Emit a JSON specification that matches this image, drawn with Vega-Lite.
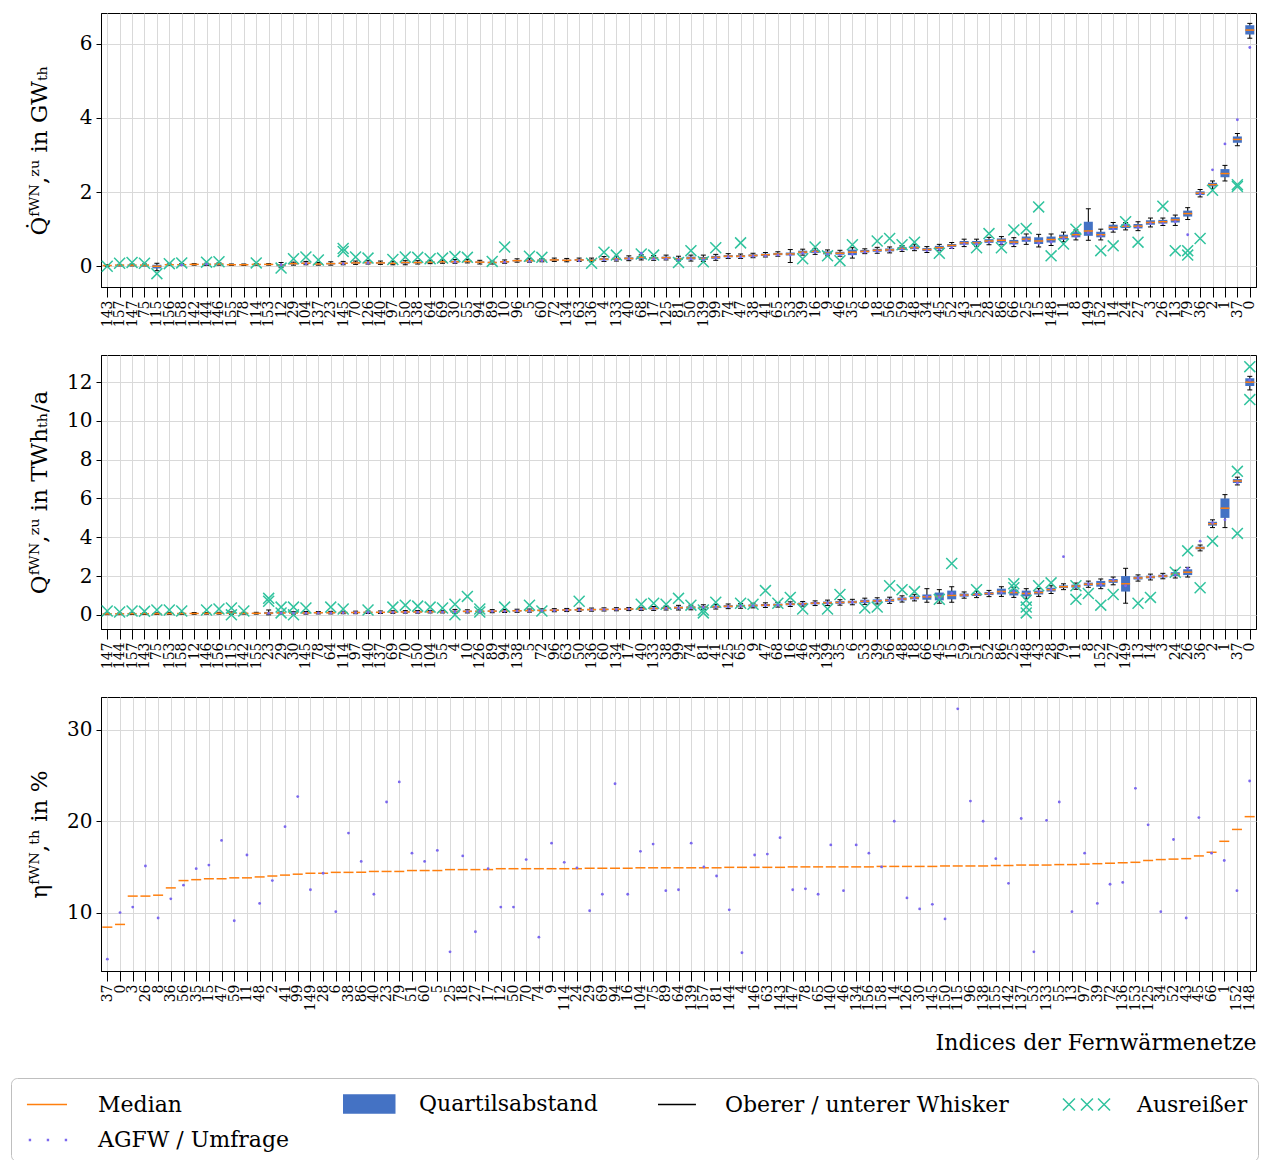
{
"$schema":"https://vega.github.io/schema/vega-lite/v6.json",
"padding":{"left":10,"top":12,"right":5,"bottom":5},
"background":"white",
"bounds":"flush",
"spacing":68,
"config":{
 "font":"DejaVu Serif",
 "view":{"stroke":"black","strokeWidth":1},
 "axis":{"domainColor":"black","tickColor":"black","labelColor":"black","titleColor":"black","gridColor":"#d9d9d9","gridWidth":1,"labelFont":"DejaVu Serif","titleFont":"DejaVu Serif","titleFontWeight":"normal"},
 "axisX":{"labelAngle":-90,"labelFontSize":14,"tickSize":10,"labelPadding":3,"grid":true,"title":null},
 "axisY":{"labelFontSize":20,"tickSize":5,"labelPadding":4,"grid":true,"titleFontSize":23,"titleX":-55,"titleAngle":-90,"titleBaseline":"alphabetic","titleAlign":"center"}
},
"resolve":{"scale":{"x":"independent","y":"independent","color":"shared","shape":"shared"},"axis":{"x":"independent","y":"independent"}},
"datasets":{
"leg":[{"item":"Median"},{"item":"Quartilsabstand"},{"item":"Oberer / unterer Whisker"},{"item":"Ausreißer"},{"item":"AGFW / Umfrage"}],
"box1":[
{"net":"143","median":0.02,"q1":0.01,"q3":0.03,"lo":0.0,"hi":0.04},
{"net":"157","median":0.03,"q1":0.02,"q3":0.04,"lo":0.01,"hi":0.05},
{"net":"147","median":0.03,"q1":0.02,"q3":0.04,"lo":0.01,"hi":0.06},
{"net":"75","median":0.03,"q1":0.02,"q3":0.04,"lo":0.01,"hi":0.06},
{"net":"115","median":0.0,"q1":-0.06,"q3":0.04,"lo":-0.12,"hi":0.08},
{"net":"156","median":0.04,"q1":0.03,"q3":0.05,"lo":0.02,"hi":0.06},
{"net":"158","median":0.04,"q1":0.03,"q3":0.05,"lo":0.02,"hi":0.07},
{"net":"142","median":0.05,"q1":0.04,"q3":0.06,"lo":0.03,"hi":0.07},
{"net":"144","median":0.05,"q1":0.04,"q3":0.07,"lo":0.02,"hi":0.08},
{"net":"146","median":0.06,"q1":0.04,"q3":0.07,"lo":0.03,"hi":0.09},
{"net":"155","median":0.04,"q1":0.03,"q3":0.05,"lo":0.02,"hi":0.06},
{"net":"78","median":0.04,"q1":0.03,"q3":0.05,"lo":0.02,"hi":0.06},
{"net":"114","median":0.05,"q1":0.04,"q3":0.06,"lo":0.03,"hi":0.07},
{"net":"153","median":0.05,"q1":0.04,"q3":0.06,"lo":0.03,"hi":0.07},
{"net":"12","median":0.03,"q1":0.0,"q3":0.06,"lo":-0.04,"hi":0.1},
{"net":"29","median":0.07,"q1":0.05,"q3":0.09,"lo":0.03,"hi":0.11},
{"net":"104","median":0.08,"q1":0.06,"q3":0.1,"lo":0.04,"hi":0.13},
{"net":"137","median":0.06,"q1":0.05,"q3":0.08,"lo":0.03,"hi":0.1},
{"net":"23","median":0.07,"q1":0.05,"q3":0.09,"lo":0.03,"hi":0.12},
{"net":"145","median":0.08,"q1":0.06,"q3":0.1,"lo":0.04,"hi":0.13},
{"net":"70","median":0.09,"q1":0.07,"q3":0.11,"lo":0.05,"hi":0.14},
{"net":"126","median":0.1,"q1":0.08,"q3":0.12,"lo":0.06,"hi":0.15},
{"net":"140","median":0.09,"q1":0.07,"q3":0.11,"lo":0.05,"hi":0.14},
{"net":"97","median":0.08,"q1":0.06,"q3":0.1,"lo":0.04,"hi":0.13},
{"net":"150","median":0.1,"q1":0.07,"q3":0.12,"lo":0.04,"hi":0.15},
{"net":"138","median":0.1,"q1":0.08,"q3":0.12,"lo":0.06,"hi":0.15},
{"net":"64","median":0.11,"q1":0.09,"q3":0.13,"lo":0.07,"hi":0.16},
{"net":"69","median":0.12,"q1":0.1,"q3":0.14,"lo":0.08,"hi":0.17},
{"net":"30","median":0.12,"q1":0.1,"q3":0.15,"lo":0.08,"hi":0.18},
{"net":"55","median":0.13,"q1":0.11,"q3":0.15,"lo":0.09,"hi":0.18},
{"net":"94","median":0.11,"q1":0.09,"q3":0.13,"lo":0.06,"hi":0.16},
{"net":"89","median":0.1,"q1":0.08,"q3":0.12,"lo":0.06,"hi":0.14},
{"net":"10","median":0.12,"q1":0.1,"q3":0.14,"lo":0.08,"hi":0.17},
{"net":"96","median":0.15,"q1":0.13,"q3":0.17,"lo":0.11,"hi":0.2},
{"net":"5","median":0.15,"q1":0.13,"q3":0.17,"lo":0.11,"hi":0.2},
{"net":"60","median":0.16,"q1":0.14,"q3":0.18,"lo":0.12,"hi":0.21},
{"net":"72","median":0.17,"q1":0.15,"q3":0.19,"lo":0.13,"hi":0.22},
{"net":"134","median":0.16,"q1":0.14,"q3":0.18,"lo":0.12,"hi":0.21},
{"net":"63","median":0.17,"q1":0.15,"q3":0.19,"lo":0.13,"hi":0.22},
{"net":"136","median":0.16,"q1":0.14,"q3":0.19,"lo":0.12,"hi":0.22},
{"net":"4","median":0.19,"q1":0.16,"q3":0.22,"lo":0.13,"hi":0.26},
{"net":"133","median":0.2,"q1":0.17,"q3":0.23,"lo":0.14,"hi":0.27},
{"net":"40","median":0.21,"q1":0.18,"q3":0.24,"lo":0.15,"hi":0.28},
{"net":"68","median":0.24,"q1":0.2,"q3":0.27,"lo":0.17,"hi":0.31},
{"net":"17","median":0.22,"q1":0.19,"q3":0.25,"lo":0.16,"hi":0.29},
{"net":"125","median":0.23,"q1":0.2,"q3":0.26,"lo":0.17,"hi":0.3},
{"net":"81","median":0.2,"q1":0.17,"q3":0.23,"lo":0.14,"hi":0.27},
{"net":"50","median":0.22,"q1":0.18,"q3":0.26,"lo":0.14,"hi":0.3},
{"net":"139","median":0.21,"q1":0.17,"q3":0.25,"lo":0.13,"hi":0.3},
{"net":"99","median":0.24,"q1":0.2,"q3":0.28,"lo":0.16,"hi":0.32},
{"net":"74","median":0.27,"q1":0.24,"q3":0.3,"lo":0.21,"hi":0.34},
{"net":"47","median":0.27,"q1":0.24,"q3":0.3,"lo":0.21,"hi":0.33},
{"net":"38","median":0.29,"q1":0.26,"q3":0.32,"lo":0.23,"hi":0.35},
{"net":"41","median":0.31,"q1":0.28,"q3":0.34,"lo":0.25,"hi":0.37},
{"net":"65","median":0.33,"q1":0.3,"q3":0.36,"lo":0.27,"hi":0.39},
{"net":"53","median":0.33,"q1":0.29,"q3":0.37,"lo":0.1,"hi":0.45},
{"net":"39","median":0.38,"q1":0.34,"q3":0.42,"lo":0.3,"hi":0.46},
{"net":"16","median":0.4,"q1":0.36,"q3":0.44,"lo":0.32,"hi":0.48},
{"net":"9","median":0.36,"q1":0.32,"q3":0.4,"lo":0.28,"hi":0.44},
{"net":"46","median":0.35,"q1":0.31,"q3":0.39,"lo":0.27,"hi":0.43},
{"net":"35","median":0.38,"q1":0.3,"q3":0.45,"lo":0.22,"hi":0.5},
{"net":"6","median":0.4,"q1":0.37,"q3":0.44,"lo":0.34,"hi":0.47},
{"net":"18","median":0.43,"q1":0.39,"q3":0.47,"lo":0.35,"hi":0.51},
{"net":"56","median":0.44,"q1":0.4,"q3":0.48,"lo":0.36,"hi":0.52},
{"net":"59","median":0.48,"q1":0.44,"q3":0.52,"lo":0.4,"hi":0.56},
{"net":"48","median":0.5,"q1":0.46,"q3":0.54,"lo":0.42,"hi":0.58},
{"net":"34","median":0.45,"q1":0.41,"q3":0.49,"lo":0.37,"hi":0.53},
{"net":"45","median":0.5,"q1":0.46,"q3":0.55,"lo":0.42,"hi":0.59},
{"net":"52","median":0.56,"q1":0.52,"q3":0.6,"lo":0.48,"hi":0.64},
{"net":"43","median":0.63,"q1":0.58,"q3":0.68,"lo":0.53,"hi":0.73},
{"net":"51","median":0.63,"q1":0.58,"q3":0.68,"lo":0.53,"hi":0.73},
{"net":"28","median":0.68,"q1":0.63,"q3":0.73,"lo":0.58,"hi":0.78},
{"net":"86","median":0.7,"q1":0.64,"q3":0.75,"lo":0.58,"hi":0.8},
{"net":"66","median":0.65,"q1":0.59,"q3":0.71,"lo":0.53,"hi":0.77},
{"net":"25","median":0.73,"q1":0.66,"q3":0.8,"lo":0.59,"hi":0.87},
{"net":"15","median":0.68,"q1":0.6,"q3":0.78,"lo":0.52,"hi":0.86},
{"net":"148","median":0.72,"q1":0.64,"q3":0.8,"lo":0.56,"hi":0.87},
{"net":"11","median":0.78,"q1":0.72,"q3":0.85,"lo":0.66,"hi":0.92},
{"net":"8","median":0.85,"q1":0.78,"q3":0.92,"lo":0.71,"hi":0.98},
{"net":"149","median":0.95,"q1":0.82,"q3":1.2,"lo":0.7,"hi":1.55},
{"net":"152","median":0.85,"q1":0.78,"q3":0.93,"lo":0.71,"hi":1.0},
{"net":"14","median":1.05,"q1":0.98,"q3":1.12,"lo":0.92,"hi":1.18},
{"net":"24","median":1.08,"q1":1.03,"q3":1.13,"lo":0.98,"hi":1.18},
{"net":"27","median":1.08,"q1":1.02,"q3":1.14,"lo":0.96,"hi":1.2},
{"net":"3","median":1.18,"q1":1.12,"q3":1.24,"lo":1.06,"hi":1.3},
{"net":"26","median":1.2,"q1":1.15,"q3":1.25,"lo":1.1,"hi":1.3},
{"net":"13","median":1.25,"q1":1.18,"q3":1.32,"lo":1.1,"hi":1.38},
{"net":"79","median":1.42,"q1":1.34,"q3":1.5,"lo":1.26,"hi":1.58},
{"net":"36","median":1.97,"q1":1.92,"q3":2.02,"lo":1.87,"hi":2.07},
{"net":"2","median":2.2,"q1":2.15,"q3":2.25,"lo":2.1,"hi":2.3},
{"net":"1","median":2.5,"q1":2.4,"q3":2.62,"lo":2.3,"hi":2.72},
{"net":"37","median":3.42,"q1":3.33,"q3":3.5,"lo":3.25,"hi":3.58},
{"net":"0","median":6.37,"q1":6.25,"q3":6.5,"lo":6.15,"hi":6.55}
],
"out1":[
{"net":"143","value":0.0},{"net":"157","value":0.08},{"net":"147","value":0.1},{"net":"75","value":0.08},{"net":"115","value":-0.2},{"net":"156","value":0.07},{"net":"158","value":0.09},{"net":"144","value":0.11},{"net":"146","value":0.12},{"net":"114","value":0.09},{"net":"12","value":-0.05},{"net":"29","value":0.2},{"net":"104","value":0.25},{"net":"137","value":0.17},{"net":"145","value":0.48},{"net":"145","value":0.4},{"net":"70","value":0.25},{"net":"126","value":0.22},{"net":"97","value":0.18},{"net":"150","value":0.25},{"net":"138","value":0.24},{"net":"64","value":0.2},{"net":"69","value":0.22},{"net":"30","value":0.26},{"net":"55","value":0.24},{"net":"89","value":0.13},{"net":"10","value":0.52},{"net":"5","value":0.27},{"net":"60","value":0.24},{"net":"136","value":0.08},{"net":"4","value":0.38},{"net":"133","value":0.3},{"net":"68","value":0.33},{"net":"17","value":0.3},{"net":"81","value":0.1},{"net":"50","value":0.42},{"net":"139","value":0.12},{"net":"99","value":0.5},{"net":"47","value":0.63},{"net":"16","value":0.52},{"net":"9","value":0.28},{"net":"46","value":0.15},{"net":"35","value":0.58},{"net":"39","value":0.2},{"net":"18","value":0.68},{"net":"56","value":0.75},{"net":"59","value":0.58},{"net":"48","value":0.65},{"net":"45","value":0.35},{"net":"51","value":0.5},{"net":"28","value":0.88},{"net":"86","value":0.5},{"net":"66","value":0.98},{"net":"25","value":1.02},{"net":"15","value":1.6},{"net":"148","value":0.28},{"net":"11","value":0.6},{"net":"8","value":1.0},{"net":"152","value":0.42},{"net":"14","value":0.55},{"net":"24","value":1.2},{"net":"27","value":0.65},{"net":"26","value":1.62},{"net":"13","value":0.42},{"net":"79","value":0.3},{"net":"79","value":0.42},{"net":"36","value":0.75},{"net":"2","value":2.05},{"net":"37","value":2.2},{"net":"37","value":2.15}
],
"srv1":[
{"net":"0","value":5.9},{"net":"37","value":3.95},{"net":"1","value":3.3},{"net":"2","value":2.6},{"net":"36","value":1.95},{"net":"79","value":0.85},{"net":"13","value":1.2},{"net":"26","value":1.15},{"net":"3","value":1.15},{"net":"27","value":1.05},{"net":"24","value":1.1},{"net":"14","value":1.0},{"net":"152","value":0.82},{"net":"149","value":0.9},{"net":"8","value":0.8},{"net":"11","value":0.75},{"net":"148","value":0.65},{"net":"15","value":0.62},{"net":"25","value":0.7},{"net":"66","value":0.6},{"net":"86","value":0.62},{"net":"28","value":0.65},{"net":"51","value":0.6},{"net":"43","value":0.6},{"net":"52","value":0.5},{"net":"45","value":0.45},{"net":"34","value":0.42},{"net":"48","value":0.48},{"net":"59","value":0.45},{"net":"56","value":0.42},{"net":"18","value":0.4},{"net":"6","value":0.38},{"net":"35","value":0.32},{"net":"46","value":0.3},{"net":"9","value":0.33},{"net":"16","value":0.38},{"net":"39","value":0.35},{"net":"53","value":0.3},{"net":"65","value":0.3},{"net":"41","value":0.28},{"net":"38","value":0.27},{"net":"47","value":0.25},{"net":"74","value":0.25},{"net":"99","value":0.22},{"net":"139","value":0.18},{"net":"50","value":0.2},{"net":"81","value":0.18},{"net":"125","value":0.2},{"net":"17","value":0.2},{"net":"68","value":0.35},{"net":"40","value":0.2},{"net":"133","value":0.18},{"net":"4","value":0.17},{"net":"63","value":0.15},{"net":"60","value":0.15},{"net":"5","value":0.13},{"net":"10","value":0.11},{"net":"30","value":0.11},{"net":"126","value":0.09},{"net":"145","value":0.07},{"net":"104","value":0.07},{"net":"12","value":0.04},{"net":"144","value":0.05},{"net":"158","value":0.03}
],
"box2":[
{"net":"147","median":0.05,"q1":0.03,"q3":0.07,"lo":0.01,"hi":0.09},
{"net":"144","median":0.05,"q1":0.03,"q3":0.07,"lo":0.01,"hi":0.09},
{"net":"157","median":0.06,"q1":0.04,"q3":0.08,"lo":0.02,"hi":0.1},
{"net":"143","median":0.06,"q1":0.04,"q3":0.08,"lo":0.02,"hi":0.1},
{"net":"75","median":0.06,"q1":0.04,"q3":0.08,"lo":0.02,"hi":0.1},
{"net":"153","median":0.07,"q1":0.05,"q3":0.09,"lo":0.03,"hi":0.11},
{"net":"158","median":0.07,"q1":0.05,"q3":0.09,"lo":0.03,"hi":0.11},
{"net":"12","median":0.07,"q1":0.05,"q3":0.09,"lo":0.03,"hi":0.12},
{"net":"146","median":0.08,"q1":0.06,"q3":0.1,"lo":0.04,"hi":0.12},
{"net":"156","median":0.08,"q1":0.06,"q3":0.1,"lo":0.04,"hi":0.13},
{"net":"115","median":0.09,"q1":0.06,"q3":0.12,"lo":0.03,"hi":0.15},
{"net":"142","median":0.08,"q1":0.06,"q3":0.1,"lo":0.04,"hi":0.13},
{"net":"155","median":0.08,"q1":0.06,"q3":0.1,"lo":0.04,"hi":0.13},
{"net":"23","median":0.09,"q1":0.04,"q3":0.15,"lo":0.0,"hi":0.25},
{"net":"29","median":0.1,"q1":0.07,"q3":0.13,"lo":0.04,"hi":0.16},
{"net":"30","median":0.1,"q1":0.07,"q3":0.13,"lo":0.04,"hi":0.16},
{"net":"145","median":0.1,"q1":0.07,"q3":0.13,"lo":0.04,"hi":0.17},
{"net":"78","median":0.11,"q1":0.08,"q3":0.14,"lo":0.05,"hi":0.17},
{"net":"64","median":0.11,"q1":0.08,"q3":0.14,"lo":0.05,"hi":0.18},
{"net":"114","median":0.12,"q1":0.09,"q3":0.15,"lo":0.06,"hi":0.18},
{"net":"97","median":0.12,"q1":0.09,"q3":0.15,"lo":0.06,"hi":0.19},
{"net":"140","median":0.13,"q1":0.1,"q3":0.16,"lo":0.07,"hi":0.2},
{"net":"137","median":0.13,"q1":0.1,"q3":0.16,"lo":0.07,"hi":0.2},
{"net":"69","median":0.14,"q1":0.11,"q3":0.17,"lo":0.08,"hi":0.21},
{"net":"70","median":0.15,"q1":0.12,"q3":0.18,"lo":0.09,"hi":0.22},
{"net":"150","median":0.15,"q1":0.12,"q3":0.18,"lo":0.09,"hi":0.22},
{"net":"104","median":0.16,"q1":0.13,"q3":0.19,"lo":0.1,"hi":0.23},
{"net":"55","median":0.16,"q1":0.13,"q3":0.19,"lo":0.1,"hi":0.23},
{"net":"4","median":0.17,"q1":0.12,"q3":0.22,"lo":0.07,"hi":0.28},
{"net":"10","median":0.18,"q1":0.14,"q3":0.22,"lo":0.1,"hi":0.26},
{"net":"126","median":0.18,"q1":0.14,"q3":0.22,"lo":0.1,"hi":0.26},
{"net":"89","median":0.19,"q1":0.15,"q3":0.23,"lo":0.11,"hi":0.27},
{"net":"94","median":0.2,"q1":0.16,"q3":0.24,"lo":0.12,"hi":0.28},
{"net":"138","median":0.21,"q1":0.17,"q3":0.25,"lo":0.13,"hi":0.29},
{"net":"5","median":0.22,"q1":0.18,"q3":0.26,"lo":0.14,"hi":0.3},
{"net":"72","median":0.23,"q1":0.19,"q3":0.27,"lo":0.15,"hi":0.31},
{"net":"96","median":0.24,"q1":0.2,"q3":0.28,"lo":0.16,"hi":0.32},
{"net":"63","median":0.25,"q1":0.21,"q3":0.29,"lo":0.17,"hi":0.33},
{"net":"50","median":0.26,"q1":0.22,"q3":0.3,"lo":0.18,"hi":0.34},
{"net":"136","median":0.27,"q1":0.23,"q3":0.31,"lo":0.19,"hi":0.35},
{"net":"60","median":0.28,"q1":0.24,"q3":0.32,"lo":0.2,"hi":0.36},
{"net":"134","median":0.29,"q1":0.25,"q3":0.33,"lo":0.21,"hi":0.37},
{"net":"17","median":0.3,"q1":0.26,"q3":0.34,"lo":0.22,"hi":0.38},
{"net":"40","median":0.31,"q1":0.27,"q3":0.35,"lo":0.23,"hi":0.39},
{"net":"133","median":0.33,"q1":0.28,"q3":0.38,"lo":0.23,"hi":0.43},
{"net":"38","median":0.35,"q1":0.3,"q3":0.4,"lo":0.25,"hi":0.45},
{"net":"99","median":0.37,"q1":0.31,"q3":0.43,"lo":0.25,"hi":0.49},
{"net":"74","median":0.38,"q1":0.32,"q3":0.44,"lo":0.26,"hi":0.5},
{"net":"81","median":0.4,"q1":0.34,"q3":0.46,"lo":0.28,"hi":0.52},
{"net":"41","median":0.42,"q1":0.36,"q3":0.48,"lo":0.3,"hi":0.54},
{"net":"125","median":0.44,"q1":0.38,"q3":0.5,"lo":0.32,"hi":0.56},
{"net":"65","median":0.46,"q1":0.4,"q3":0.52,"lo":0.34,"hi":0.58},
{"net":"9","median":0.48,"q1":0.42,"q3":0.54,"lo":0.36,"hi":0.6},
{"net":"47","median":0.5,"q1":0.44,"q3":0.56,"lo":0.38,"hi":0.62},
{"net":"68","median":0.52,"q1":0.46,"q3":0.58,"lo":0.4,"hi":0.64},
{"net":"16","median":0.55,"q1":0.49,"q3":0.61,"lo":0.43,"hi":0.67},
{"net":"46","median":0.57,"q1":0.51,"q3":0.63,"lo":0.45,"hi":0.69},
{"net":"34","median":0.6,"q1":0.54,"q3":0.66,"lo":0.48,"hi":0.72},
{"net":"139","median":0.62,"q1":0.55,"q3":0.69,"lo":0.48,"hi":0.76},
{"net":"35","median":0.64,"q1":0.57,"q3":0.71,"lo":0.5,"hi":0.78},
{"net":"6","median":0.66,"q1":0.59,"q3":0.73,"lo":0.52,"hi":0.8},
{"net":"53","median":0.7,"q1":0.62,"q3":0.78,"lo":0.54,"hi":0.86},
{"net":"39","median":0.72,"q1":0.64,"q3":0.8,"lo":0.56,"hi":0.88},
{"net":"56","median":0.75,"q1":0.67,"q3":0.83,"lo":0.59,"hi":0.91},
{"net":"48","median":0.82,"q1":0.74,"q3":0.9,"lo":0.66,"hi":0.98},
{"net":"18","median":0.88,"q1":0.8,"q3":0.96,"lo":0.72,"hi":1.04},
{"net":"66","median":0.93,"q1":0.78,"q3":1.05,"lo":0.65,"hi":1.35},
{"net":"45","median":0.95,"q1":0.75,"q3":1.15,"lo":0.6,"hi":1.3},
{"net":"15","median":1.0,"q1":0.8,"q3":1.25,"lo":0.65,"hi":1.45},
{"net":"59","median":1.02,"q1":0.94,"q3":1.1,"lo":0.86,"hi":1.18},
{"net":"51","median":1.05,"q1":0.97,"q3":1.13,"lo":0.89,"hi":1.21},
{"net":"52","median":1.1,"q1":1.02,"q3":1.18,"lo":0.94,"hi":1.26},
{"net":"86","median":1.2,"q1":1.05,"q3":1.35,"lo":0.95,"hi":1.45},
{"net":"25","median":1.15,"q1":1.0,"q3":1.3,"lo":0.9,"hi":1.4},
{"net":"148","median":1.1,"q1":0.95,"q3":1.25,"lo":0.85,"hi":1.35},
{"net":"43","median":1.15,"q1":1.05,"q3":1.25,"lo":0.95,"hi":1.35},
{"net":"28","median":1.3,"q1":1.2,"q3":1.4,"lo":1.1,"hi":1.5},
{"net":"79","median":1.45,"q1":1.38,"q3":1.52,"lo":1.3,"hi":1.6},
{"net":"11","median":1.48,"q1":1.4,"q3":1.56,"lo":1.32,"hi":1.64},
{"net":"8","median":1.58,"q1":1.5,"q3":1.66,"lo":1.42,"hi":1.74},
{"net":"152","median":1.6,"q1":1.45,"q3":1.75,"lo":1.35,"hi":1.85},
{"net":"27","median":1.75,"q1":1.65,"q3":1.85,"lo":1.55,"hi":1.95},
{"net":"149","median":1.6,"q1":1.2,"q3":2.0,"lo":0.6,"hi":2.4},
{"net":"13","median":1.9,"q1":1.82,"q3":1.98,"lo":1.74,"hi":2.06},
{"net":"14","median":1.95,"q1":1.88,"q3":2.02,"lo":1.8,"hi":2.1},
{"net":"3","median":2.0,"q1":1.93,"q3":2.07,"lo":1.86,"hi":2.14},
{"net":"24","median":2.1,"q1":2.0,"q3":2.2,"lo":1.9,"hi":2.3},
{"net":"26","median":2.2,"q1":2.05,"q3":2.35,"lo":1.95,"hi":2.45},
{"net":"36","median":3.45,"q1":3.38,"q3":3.52,"lo":3.3,"hi":3.6},
{"net":"2","median":4.7,"q1":4.6,"q3":4.8,"lo":4.5,"hi":4.9},
{"net":"1","median":5.5,"q1":5.0,"q3":6.0,"lo":4.5,"hi":6.2},
{"net":"37","median":6.9,"q1":6.8,"q3":7.0,"lo":6.7,"hi":7.1},
{"net":"0","median":12.0,"q1":11.8,"q3":12.2,"lo":11.6,"hi":12.3}
],
"out2":[
{"net":"147","value":0.2},{"net":"144","value":0.15},{"net":"157","value":0.2},{"net":"143","value":0.18},{"net":"75","value":0.25},{"net":"153","value":0.25},{"net":"158","value":0.2},{"net":"146","value":0.25},{"net":"156","value":0.3},{"net":"115","value":0.35},{"net":"115","value":0.0},{"net":"142","value":0.2},{"net":"23","value":0.85},{"net":"23","value":0.7},{"net":"29","value":0.1},{"net":"29","value":0.4},{"net":"30","value":0.0},{"net":"30","value":0.4},{"net":"145","value":0.35},{"net":"64","value":0.4},{"net":"114","value":0.3},{"net":"140","value":0.25},{"net":"69","value":0.4},{"net":"70","value":0.5},{"net":"150","value":0.45},{"net":"104","value":0.4},{"net":"55","value":0.35},{"net":"4","value":0.0},{"net":"4","value":0.55},{"net":"10","value":0.95},{"net":"126","value":0.15},{"net":"126","value":0.3},{"net":"94","value":0.4},{"net":"5","value":0.5},{"net":"72","value":0.2},{"net":"50","value":0.7},{"net":"40","value":0.55},{"net":"133","value":0.6},{"net":"38","value":0.55},{"net":"99","value":0.85},{"net":"74","value":0.5},{"net":"81","value":0.25},{"net":"81","value":0.1},{"net":"41","value":0.65},{"net":"65","value":0.6},{"net":"9","value":0.55},{"net":"47","value":1.25},{"net":"68","value":0.6},{"net":"16","value":0.9},{"net":"46","value":0.3},{"net":"139","value":0.3},{"net":"35","value":1.05},{"net":"53","value":0.35},{"net":"39","value":0.4},{"net":"56","value":1.5},{"net":"48","value":1.3},{"net":"18","value":1.2},{"net":"45","value":0.8},{"net":"15","value":2.65},{"net":"51","value":1.3},{"net":"25","value":1.6},{"net":"25","value":1.4},{"net":"148","value":0.1},{"net":"148","value":0.4},{"net":"148","value":0.75},{"net":"43","value":1.5},{"net":"28","value":1.65},{"net":"11","value":0.8},{"net":"11","value":1.5},{"net":"8","value":1.1},{"net":"152","value":0.5},{"net":"27","value":1.05},{"net":"13","value":0.6},{"net":"14","value":0.9},{"net":"24","value":2.2},{"net":"26","value":3.3},{"net":"36","value":1.4},{"net":"2","value":3.8},{"net":"37","value":7.4},{"net":"37","value":4.2},{"net":"0","value":12.8},{"net":"0","value":11.1}
],
"srv2":[
{"net":"79","value":3.0},{"net":"36","value":3.8},{"net":"1","value":4.9},{"net":"0","value":12.1},{"net":"37","value":6.8},{"net":"2","value":4.75},{"net":"26","value":2.4},{"net":"24","value":2.05},{"net":"3","value":2.0},{"net":"14","value":1.95},{"net":"13","value":1.9},{"net":"149","value":1.5},{"net":"27","value":1.8},{"net":"152","value":1.55},{"net":"8","value":1.6},{"net":"11","value":1.45},{"net":"28","value":1.3},{"net":"43","value":1.2},{"net":"148","value":1.1},{"net":"25","value":1.2},{"net":"86","value":1.15},{"net":"52","value":1.1},{"net":"51","value":1.05},{"net":"59","value":1.0},{"net":"15","value":1.1},{"net":"45","value":0.9},{"net":"66","value":0.95},{"net":"18","value":0.85},{"net":"48","value":0.8},{"net":"56","value":0.75},{"net":"39","value":0.72},{"net":"53","value":0.7},{"net":"6","value":0.65},{"net":"35","value":0.62},{"net":"139","value":0.6},{"net":"34","value":0.6},{"net":"46","value":0.55},{"net":"16","value":0.55},{"net":"68","value":0.5},{"net":"47","value":0.5},{"net":"9","value":0.46},{"net":"65","value":0.45},{"net":"125","value":0.42},{"net":"41","value":0.4},{"net":"81","value":0.4},{"net":"74","value":0.36},{"net":"99","value":0.35},{"net":"38","value":0.33},{"net":"133","value":0.32},{"net":"40","value":0.3},{"net":"17","value":0.3},{"net":"134","value":0.28},{"net":"60","value":0.27},{"net":"136","value":0.26},{"net":"50","value":0.25},{"net":"63","value":0.24},{"net":"96","value":0.22},{"net":"72","value":0.22},{"net":"5","value":0.2},{"net":"138","value":0.2},{"net":"94","value":0.18},{"net":"89","value":0.18},{"net":"126","value":0.17},{"net":"10","value":0.17},{"net":"4","value":0.16},{"net":"55","value":0.15},{"net":"104","value":0.15},{"net":"150","value":0.14},{"net":"70","value":0.13},{"net":"69","value":0.13},{"net":"137","value":0.12},{"net":"140","value":0.12},{"net":"97","value":0.11},{"net":"114","value":0.11},{"net":"64","value":0.1},{"net":"78","value":0.1},{"net":"145","value":0.09},{"net":"30","value":0.09},{"net":"29","value":0.09},{"net":"23","value":0.08}
],
"med3":[
{"net":"37","median":8.4},{"net":"0","median":8.7},{"net":"3","median":11.8},{"net":"26","median":11.8},{"net":"8","median":11.9},{"net":"36","median":12.7},{"net":"56","median":13.5},{"net":"35","median":13.6},{"net":"15","median":13.7},{"net":"47","median":13.7},{"net":"59","median":13.8},{"net":"11","median":13.8},{"net":"48","median":13.9},{"net":"2","median":14.0},{"net":"41","median":14.1},{"net":"99","median":14.2},{"net":"149","median":14.3},{"net":"28","median":14.3},{"net":"6","median":14.4},{"net":"38","median":14.4},{"net":"86","median":14.4},{"net":"40","median":14.5},{"net":"23","median":14.5},{"net":"79","median":14.5},{"net":"51","median":14.6},{"net":"60","median":14.6},{"net":"5","median":14.6},{"net":"25","median":14.7},{"net":"18","median":14.7},{"net":"27","median":14.7},{"net":"17","median":14.7},{"net":"12","median":14.8},{"net":"50","median":14.8},{"net":"70","median":14.8},{"net":"74","median":14.8},{"net":"9","median":14.8},{"net":"114","median":14.8},{"net":"24","median":14.8},{"net":"29","median":14.85},{"net":"69","median":14.85},{"net":"94","median":14.85},{"net":"16","median":14.85},{"net":"104","median":14.9},{"net":"75","median":14.9},{"net":"89","median":14.9},{"net":"64","median":14.9},{"net":"139","median":14.9},{"net":"157","median":14.9},{"net":"81","median":14.9},{"net":"144","median":14.95},{"net":"4","median":14.95},{"net":"146","median":14.95},{"net":"63","median":14.95},{"net":"143","median":14.95},{"net":"147","median":15.0},{"net":"78","median":15.0},{"net":"65","median":15.0},{"net":"140","median":15.0},{"net":"46","median":15.0},{"net":"134","median":15.0},{"net":"156","median":15.0},{"net":"158","median":15.05},{"net":"14","median":15.05},{"net":"126","median":15.05},{"net":"30","median":15.05},{"net":"145","median":15.05},{"net":"150","median":15.1},{"net":"115","median":15.1},{"net":"96","median":15.1},{"net":"138","median":15.1},{"net":"155","median":15.15},{"net":"142","median":15.15},{"net":"137","median":15.2},{"net":"53","median":15.2},{"net":"133","median":15.2},{"net":"55","median":15.25},{"net":"13","median":15.25},{"net":"97","median":15.3},{"net":"39","median":15.35},{"net":"72","median":15.4},{"net":"136","median":15.45},{"net":"153","median":15.5},{"net":"125","median":15.7},{"net":"34","median":15.8},{"net":"52","median":15.85},{"net":"43","median":15.9},{"net":"45","median":16.2},{"net":"66","median":16.6},{"net":"1","median":17.8},{"net":"152","median":19.1},{"net":"148","median":20.5}
],
"srv3":[
{"net":"37","value":4.9},{"net":"0","value":10.0},{"net":"3","value":10.6},{"net":"26","value":15.1},{"net":"8","value":9.4},{"net":"36","value":11.5},{"net":"56","value":13.0},{"net":"35","value":14.8},{"net":"15","value":15.2},{"net":"47","value":17.9},{"net":"59","value":9.1},{"net":"11","value":16.3},{"net":"48","value":11.0},{"net":"2","value":13.5},{"net":"41","value":19.4},{"net":"99","value":22.7},{"net":"149","value":12.5},{"net":"28","value":14.3},{"net":"6","value":10.1},{"net":"38","value":18.7},{"net":"86","value":15.6},{"net":"40","value":12.0},{"net":"23","value":22.1},{"net":"79","value":24.3},{"net":"51","value":16.5},{"net":"60","value":15.6},{"net":"5","value":16.8},{"net":"25","value":5.7},{"net":"18","value":16.2},{"net":"27","value":7.9},{"net":"17","value":14.8},{"net":"12","value":10.6},{"net":"50","value":10.6},{"net":"70","value":15.8},{"net":"74","value":7.3},{"net":"9","value":17.6},{"net":"114","value":15.5},{"net":"24","value":14.9},{"net":"29","value":10.2},{"net":"69","value":12.0},{"net":"94","value":24.1},{"net":"16","value":12.0},{"net":"104","value":16.7},{"net":"75","value":17.5},{"net":"89","value":12.4},{"net":"64","value":12.5},{"net":"139","value":17.6},{"net":"157","value":15.0},{"net":"81","value":14.0},{"net":"144","value":10.3},{"net":"4","value":5.6},{"net":"146","value":16.3},{"net":"63","value":16.4},{"net":"143","value":18.2},{"net":"147","value":12.5},{"net":"78","value":12.6},{"net":"65","value":12.0},{"net":"140","value":17.4},{"net":"46","value":12.4},{"net":"134","value":17.4},{"net":"156","value":16.5},{"net":"158","value":15.0},{"net":"14","value":20.0},{"net":"126","value":11.6},{"net":"30","value":10.4},{"net":"145","value":10.9},{"net":"150","value":9.3},{"net":"115","value":32.3},{"net":"96","value":22.2},{"net":"138","value":20.0},{"net":"155","value":15.9},{"net":"142","value":13.2},{"net":"137","value":20.3},{"net":"53","value":5.7},{"net":"133","value":20.1},{"net":"55","value":22.1},{"net":"13","value":10.1},{"net":"97","value":16.5},{"net":"39","value":11.0},{"net":"72","value":13.1},{"net":"136","value":13.3},{"net":"153","value":23.6},{"net":"125","value":19.6},{"net":"34","value":10.1},{"net":"52","value":18.0},{"net":"43","value":9.4},{"net":"45","value":20.4},{"net":"66","value":16.5},{"net":"1","value":15.7},{"net":"152","value":12.4},{"net":"148","value":24.4}
]
},
"vconcat":[
{
 "width":1155,"height":274,
 "encoding":{"x":{"field":"net","type":"nominal","scale":{"type":"point","padding":0.5,"domain":["143","157","147","75","115","156","158","142","144","146","155","78","114","153","12","29","104","137","23","145","70","126","140","97","150","138","64","69","30","55","94","89","10","96","5","60","72","134","63","136","4","133","40","68","17","125","81","50","139","99","74","47","38","41","65","53","39","16","9","46","35","6","18","56","59","48","34","45","52","43","51","28","86","66","25","15","148","11","8","149","152","14","24","27","3","26","13","79","36","2","1","37","0"]},"axis":{"title":null}}},
 "layer":[
  {"data":{"name":"box1"},"mark":{"type":"rule","color":"black","strokeWidth":1},"encoding":{"y":{"field":"lo","type":"quantitative","scale":{"domain":[-0.56,6.83],"nice":false,"zero":false},"axis":{"title":"Q̇ᶠᵂᴺ,ᶻᵘ in GWₜₕ","values":[0,2,4,6]}},"y2":{"field":"hi"}}},
  {"data":{"name":"box1"},"mark":{"type":"tick","color":"black","size":5,"thickness":1,"opacity":1},"encoding":{"y":{"field":"lo","type":"quantitative"}}},
  {"data":{"name":"box1"},"mark":{"type":"tick","color":"black","size":5,"thickness":1,"opacity":1},"encoding":{"y":{"field":"hi","type":"quantitative"}}},
  {"data":{"name":"box1"},"mark":{"type":"bar","color":"#4472c4","size":9},"encoding":{"y":{"field":"q1","type":"quantitative"},"y2":{"field":"q3"}}},
  {"data":{"name":"box1"},"mark":{"type":"tick","color":"#ff7f0e","size":9,"thickness":1.5,"opacity":1},"encoding":{"y":{"field":"median","type":"quantitative"}}},
  {"data":{"name":"out1"},"mark":{"type":"point","shape":"M-1,-1L1,1M-1,1L1,-1","filled":false,"color":"#30c39e","size":120,"strokeWidth":1.5,"opacity":1},"encoding":{"y":{"field":"value","type":"quantitative"}}},
  {"data":{"name":"srv1"},"mark":{"type":"point","shape":"circle","filled":true,"color":"#7b68ee","size":8,"opacity":1},"encoding":{"y":{"field":"value","type":"quantitative"}}}
 ]
},
{
 "width":1155,"height":274,
 "encoding":{"x":{"field":"net","type":"nominal","scale":{"type":"point","padding":0.5,"domain":["147","144","157","143","75","153","158","12","146","156","115","142","155","23","29","30","145","78","64","114","97","140","137","69","70","150","104","55","4","10","126","89","94","138","5","72","96","63","50","136","60","134","17","40","133","38","99","74","81","41","125","65","9","47","68","16","46","34","139","35","6","53","39","56","48","18","66","45","15","59","51","52","86","25","148","43","28","79","11","8","152","27","149","13","14","3","24","26","36","2","1","37","0"]},"axis":{"title":null}}},
 "layer":[
  {"data":{"name":"box2"},"mark":{"type":"rule","color":"black","strokeWidth":1},"encoding":{"y":{"field":"lo","type":"quantitative","scale":{"domain":[-0.73,13.4],"nice":false,"zero":false},"axis":{"title":"Qᶠᵂᴺ,ᶻᵘ in TWhₜₕ/a","values":[0,2,4,6,8,10,12]}},"y2":{"field":"hi"}}},
  {"data":{"name":"box2"},"mark":{"type":"tick","color":"black","size":5,"thickness":1,"opacity":1},"encoding":{"y":{"field":"lo","type":"quantitative"}}},
  {"data":{"name":"box2"},"mark":{"type":"tick","color":"black","size":5,"thickness":1,"opacity":1},"encoding":{"y":{"field":"hi","type":"quantitative"}}},
  {"data":{"name":"box2"},"mark":{"type":"bar","color":"#4472c4","size":9},"encoding":{"y":{"field":"q1","type":"quantitative"},"y2":{"field":"q3"}}},
  {"data":{"name":"box2"},"mark":{"type":"tick","color":"#ff7f0e","size":9,"thickness":1.5,"opacity":1},"encoding":{"y":{"field":"median","type":"quantitative"}}},
  {"data":{"name":"out2"},"mark":{"type":"point","shape":"M-1,-1L1,1M-1,1L1,-1","filled":false,"color":"#30c39e","size":120,"strokeWidth":1.5,"opacity":1},"encoding":{"y":{"field":"value","type":"quantitative"}}},
  {"data":{"name":"srv2"},"mark":{"type":"point","shape":"circle","filled":true,"color":"#7b68ee","size":8,"opacity":1},"encoding":{"y":{"field":"value","type":"quantitative"}}}
 ]
},
{
 "width":1155,"height":274,
 "encoding":{"x":{"field":"net","type":"nominal","scale":{"type":"point","padding":0.5,"domain":["37","0","3","26","8","36","56","35","15","47","59","11","48","2","41","99","149","28","6","38","86","40","23","79","51","60","5","25","18","27","17","12","50","70","74","9","114","24","29","69","94","16","104","75","89","64","139","157","81","144","4","146","63","143","147","78","65","140","46","134","156","158","14","126","30","145","150","115","96","138","155","142","137","53","133","55","13","97","39","72","136","153","125","34","52","43","45","66","1","152","148"]},"axis":{"title":"Indices der Fernwärmenetze","titleAnchor":"end","titleFontSize":22,"titlePadding":22}}},
 "layer":[
  {"data":{"name":"med3"},"mark":{"type":"tick","color":"#ff7f0e","size":10,"thickness":1.5,"opacity":1},"encoding":{
    "y":{"field":"median","type":"quantitative","scale":{"domain":[3.6,33.6],"nice":false,"zero":false},"axis":{"title":"ηᶠᵂᴺ,ᵗʰ in %","values":[10,20,30]}}}},
  {"data":{"name":"srv3"},"mark":{"type":"point","shape":"circle","filled":true,"color":"#7b68ee","size":8,"opacity":1},"encoding":{"y":{"field":"value","type":"quantitative"}}},
  {"data":{"name":"leg"},"mark":{"type":"point","filled":false,"opacity":0,"strokeWidth":1.5},"encoding":{
    "color":{"field":"item","type":"nominal","scale":{"domain":["Median","Quartilsabstand","Oberer / unterer Whisker","Ausreißer","AGFW / Umfrage"],"range":["#ff7f0e","#4472c4","#000000","#30c39e","#7b68ee"]},
      "legend":{"orient":"none","legendX":-90,"legendY":1065,"direction":"horizontal","columns":4,"title":null,"labelFontSize":22,"labelFont":"DejaVu Serif","labelColor":"black","labelLimit":500,"symbolSize":900,"symbolOpacity":1,"symbolStrokeWidth":1.5,"columnPadding":50,"rowPadding":8,"labelOffset":45,"strokeColor":"#bfbfbf","cornerRadius":6,"padding":10,"fillColor":"white"}},
    "shape":{"field":"item","type":"nominal","scale":{"domain":["Median","Quartilsabstand","Oberer / unterer Whisker","Ausreißer","AGFW / Umfrage"],"range":["M-0.67,0H2","M-1,-0.6H2.5M-1,-0.5H2.5M-1,-0.4H2.5M-1,-0.3H2.5M-1,-0.2H2.5M-1,-0.1H2.5M-1,0H2.5M-1,0.1H2.5M-1,0.2H2.5M-1,0.3H2.5M-1,0.4H2.5M-1,0.5H2.5M-1,0.6H2.5","M-0.4,0H2.13","M-0.87,-0.4L-0.07,0.4M-0.87,0.4L-0.07,-0.4M0.33,-0.4L1.13,0.4M0.33,0.4L1.13,-0.4M1.47,-0.4L2.27,0.4M1.47,0.4L2.27,-0.4","M-0.5,-0.03H-0.44V0.03H-0.5ZM0.7,-0.03H0.76V0.03H0.7ZM1.9,-0.03H1.96V0.03H1.9Z"]},
      "legend":{"orient":"none","legendX":-90,"legendY":1065,"direction":"horizontal","columns":4,"title":null,"labelFontSize":22,"labelFont":"DejaVu Serif","labelColor":"black","labelLimit":500,"symbolSize":900,"symbolOpacity":1,"symbolStrokeWidth":1.5,"columnPadding":50,"rowPadding":8,"labelOffset":45,"strokeColor":"#bfbfbf","cornerRadius":6,"padding":10,"fillColor":"white"}}
  }}
 ]
}
]
}
